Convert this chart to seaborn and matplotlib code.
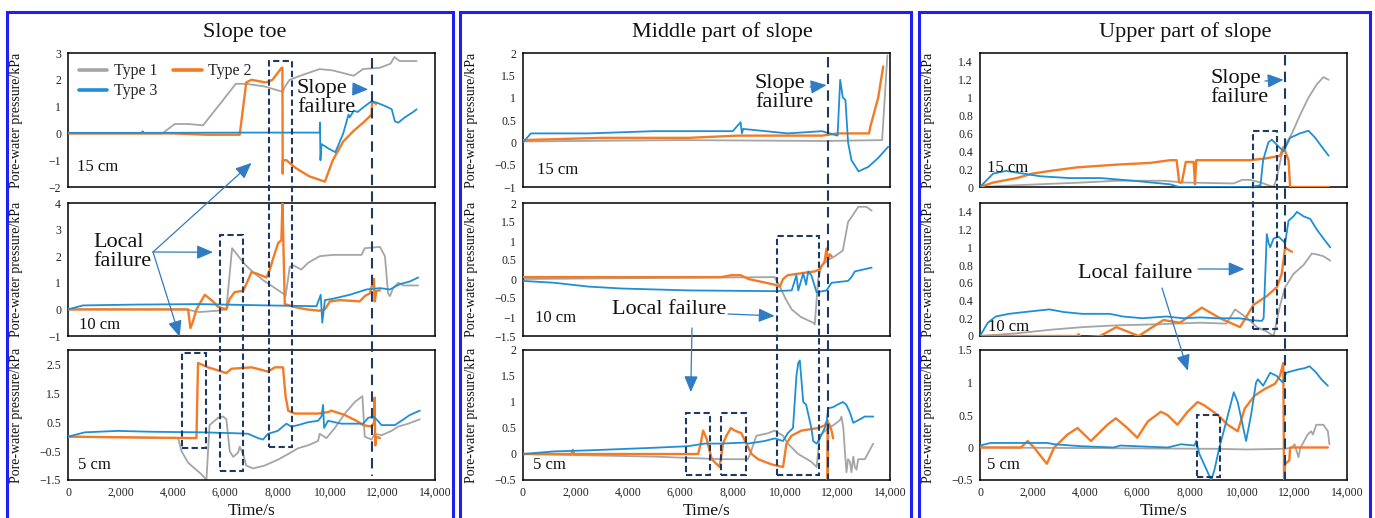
import matplotlib
matplotlib.use("Agg")
import numpy as np
import pandas as pd
import matplotlib.pyplot as plt
import seaborn as sns
from matplotlib.patches import Rectangle, FancyArrowPatch
from matplotlib.lines import Line2D
from matplotlib.ticker import FuncFormatter

# ---------------- DATA (time in s, pore-water pressure in kPa) ----------------
panel_titles = ["Slope toe", "Middle part of slope", "Upper part of slope"]
depth_labels = ["15 cm", "10 cm", "5 cm"]
series_names = ["Type 1", "Type 2", "Type 3"]

# Slope toe, 15 cm
toe15_type1_t = [0, 3600, 4070, 4600, 5150, 5800, 6400, 6800, 7500, 8200, 8250, 8450, 9000, 9600, 10100, 10900, 11250, 11900, 12300, 12450, 12650, 13300]
toe15_type1_p = [0, 0, 0.35, 0.35, 0.3, 1.1, 1.85, 1.85, 1.75, 1.55, 1.7, 2.0, 2.2, 2.4, 2.35, 2.15, 2.4, 2.45, 2.6, 2.85, 2.7, 2.7]
toe15_type2_t = [0, 4000, 5300, 6550, 6800, 7000, 7550, 7800, 8150, 8180, 8190, 8200, 8330, 8700, 9200, 9800, 10100, 10500, 10900, 11260, 11580, 11600, 11750]
toe15_type2_p = [0, 0, -0.05, -0.05, 1.9, 2.0, 1.9, 2.0, 2.45, 2.45, -1.5, -1.0, -1.0, -1.3, -1.6, -1.8, -1.0, -0.3, 0.1, 0.4, 0.7, 1.2, 1.1]
toe15_type3_t = [0, 2800, 2850, 2900, 6500, 9600, 9610, 9630, 9670, 10000, 10200, 10500, 10700, 10750, 10900, 11050, 11300, 11580, 11770, 12150, 12350, 12470, 12600, 12850, 13170, 13300]
toe15_type3_p = [0.02, 0.02, 0.08, 0.02, 0.03, 0.03, 0.4, -1.0, -0.4, -0.6, -0.7, 0.0, 0.7, 0.6, 0.85, 0.8, 1.0, 1.2, 1.15, 1.0, 0.9, 0.45, 0.4, 0.6, 0.8, 0.9]

# Slope toe, 10 cm
toe10_type1_t = [0, 4500, 5000, 5700, 6040, 6260, 6420, 6740, 7060, 7440, 7820, 8200, 8300, 8460, 8600, 8900, 9160, 9600, 10100, 11200, 11320, 11900, 12090, 12210, 12280, 12400, 12600, 12800, 13360]
toe10_type1_p = [0, 0, -0.1, -0.05, 0.0, 2.3, 2.1, 1.7, 1.4, 1.1, 0.85, 0.6, 0.5, 1.6, 1.65, 1.5, 1.75, 2.0, 2.05, 2.05, 2.3, 2.35, 2.0, 0.6, 0.5, 0.8, 1.0, 0.9, 0.9]
toe10_type2_t = [0, 4580, 4670, 4750, 4900, 5220, 5530, 5720, 6040, 6170, 6360, 6680, 6870, 7000, 7190, 7570, 7700, 7820, 8020, 8140, 8180, 8270, 8590, 9100, 9600, 9800, 9990, 10370, 11130, 11320, 11510, 11670, 11700, 11770, 11900]
toe10_type2_p = [0, 0, -0.7, -0.5, 0.0, 0.55, 0.3, 0.1, 0.0, 0.4, 0.65, 0.7, 1.1, 1.4, 1.35, 1.2, 1.5, 1.9, 2.5, 2.6, 4.0, 0.2, 0.1, 0.0, -0.05, 0.0, 0.3, 0.35, 0.3, 0.5, 0.6, 1.15, 0.3, 0.7, 0.72]
toe10_type3_t = [0, 570, 2500, 5000, 7570, 9480, 9640, 9700, 9800, 10100, 10750, 11390, 11900, 12280, 12660, 13040, 13360]
toe10_type3_p = [0, 0.15, 0.18, 0.2, 0.15, 0.12, 0.55, -0.5, 0.35, 0.4, 0.55, 0.75, 0.8, 0.75, 0.95, 1.05, 1.2]

# Slope toe, 5 cm
toe5_type1_t = [0, 4200, 4330, 4580, 4830, 5090, 5280, 5400, 5720, 5920, 6040, 6170, 6300, 6490, 6550, 6680, 6800, 7060, 7500, 8000, 8400, 8780, 9160, 9540, 9600, 9860, 10180, 10560, 10940, 11230, 11320, 11580, 11700, 11960, 12340, 12600, 12980, 13420]
toe5_type1_p = [0, -0.05, -0.5, -0.9, -1.1, -1.3, -1.5, 0.4, 0.65, 0.7, 0.6, -0.5, -0.7, -0.55, -0.35, -0.6, -1.0, -1.1, -1.0, -0.8, -0.6, -0.4, -0.3, -0.15, 0.1, -0.05, 0.3, 0.8, 1.2, 1.4, 0.0, -0.1, 0.1, 0.05, 0.2, 0.35, 0.45, 0.6]
toe5_type2_t = [0, 4900, 4960, 5340, 5700, 6040, 6230, 7000, 7440, 7630, 7890, 8200, 8300, 8400, 8650, 9540, 9920, 10050, 10560, 11000, 11260, 11580, 11680, 11700, 11720, 11750, 11900]
toe5_type2_p = [0, -0.05, 2.55, 2.4, 2.3, 2.2, 2.35, 2.4, 2.3, 2.25, 2.4, 2.4, 1.4, 0.9, 0.8, 0.8, 0.85, 0.9, 0.75, 0.55, 0.4, 0.35, 0.5, 1.35, -0.3, 0.0, -0.05]
toe5_type3_t = [0, 640, 1900, 3180, 5090, 6360, 6870, 7250, 7440, 7630, 8000, 8330, 8520, 8780, 9160, 9540, 9670, 9730, 9770, 9920, 10430, 11260, 11450, 11640, 11770, 11960, 12470, 12720, 13040, 13420]
toe5_type3_p = [0, 0.15, 0.2, 0.17, 0.15, 0.12, 0.1, -0.05, -0.1, 0.1, 0.2, 0.45, 0.35, 0.4, 0.5, 0.55, 0.7, 1.1, 0.3, 0.55, 0.45, 0.45, 0.65, 0.7, 0.6, 0.4, 0.4, 0.55, 0.75, 0.9]

# Middle part, 15 cm
mid15_type1_t = [0, 6000, 11500, 13700, 13900]
mid15_type1_p = [0.02, 0.05, 0.03, 0.05, 1.95]
mid15_type2_t = [0, 3000, 6300, 8200, 11400, 12000, 13200, 13250, 13550, 13740]
mid15_type2_p = [0.05, 0.1, 0.1, 0.15, 0.15, 0.2, 0.2, 0.35, 1.0, 1.7]
mid15_type3_t = [0, 300, 2500, 5000, 8000, 8300, 8350, 8400, 10100, 11400, 12000, 12100, 12200, 12300, 12400, 12530, 12800, 13170, 13550, 13930]
mid15_type3_p = [0, 0.2, 0.2, 0.25, 0.25, 0.45, 0.2, 0.3, 0.2, 0.25, 0.15, 1.4, 1.0, 0.95, 0.0, -0.4, -0.65, -0.55, -0.35, -0.1]

# Middle part, 10 cm
mid10_type1_t = [0, 9600, 9800, 10000, 10250, 10600, 11070, 11130, 11260, 11390, 11640, 11900, 12200, 12400, 12600, 12790, 13100, 13300]
mid10_type1_p = [0, 0.05, -0.2, -0.5, -0.8, -1.0, -1.15, -1.2, 0.0, 0.35, 0.5, 0.6, 0.75, 1.5, 1.7, 1.9, 1.9, 1.8]
mid10_type2_t = [0, 7570, 7950, 8300, 8600, 9600, 9800, 9920, 10100, 10600, 11130, 11300, 11500, 11580, 11620, 11700, 11770]
mid10_type2_p = [0.05, 0.05, 0.1, 0.1, 0.0, -0.15, -0.2, 0.0, 0.1, 0.15, 0.2, 0.25, 0.45, 0.8, 0.5, 0.65, 0.6]
mid10_type3_t = [0, 1200, 2500, 3750, 6300, 9600, 10250, 10430, 10500, 10690, 10800, 10880, 11000, 11200, 11580, 11770, 12400, 12530, 12660, 13300]
mid10_type3_p = [-0.05, -0.1, -0.2, -0.25, -0.3, -0.32, -0.3, 0.1, -0.3, 0.15, -0.15, 0.2, 0.1, -0.35, -0.3, -0.1, -0.05, 0.05, 0.2, 0.3]

# Middle part, 5 cm
mid5_type1_t = [0, 1900, 5000, 7570, 8580, 8700, 8900, 9350, 9600, 9920, 10100, 10500, 11000, 11200, 11320, 11640, 11830, 12090, 12150, 12220, 12280, 12340, 12400, 12470, 12530, 12600, 12660, 12720, 12790, 13040, 13360]
mid5_type1_p = [0, -0.02, -0.05, -0.1, -0.1, 0.05, 0.35, 0.4, 0.45, 0.35, 0.2, 0.0, -0.15, -0.25, 0.35, 0.5, 0.55, 0.65, 0.72, 0.5, 0.05, -0.35, -0.1, -0.15, -0.35, -0.05, -0.25, -0.3, -0.1, -0.1, 0.2]
mid5_type2_t = [0, 1850, 1900, 1950, 6300, 6680, 6780, 6870, 7000, 7200, 7500, 7630, 7760, 7930, 8080, 8330, 8520, 8720, 8970, 9480, 9920, 10050, 10240, 10620, 11260, 11510, 11620, 11625, 11640, 11700, 11770, 11830]
mid5_type2_p = [0, 0, 0.08, 0, 0, 0, 0.2, 0.45, 0.3, -0.1, -0.25, 0.2, 0.35, 0.5, 0.45, 0.4, 0.2, 0.0, -0.1, -0.2, -0.25, 0.2, 0.35, 0.45, 0.5, 0.55, 0.65, -0.55, 0.6, 0.55, 0.45, 0.3]
mid5_type3_t = [0, 1200, 2500, 5000, 6300, 6930, 7570, 8460, 8580, 9220, 9600, 9920, 10100, 10300, 10430, 10500, 10560, 10690, 10800, 11000, 11070, 11200, 11320, 11510, 11580, 11640, 11830, 12000, 12200, 12330, 12470, 12600, 12790, 13040, 13360]
mid5_type3_p = [0, 0.05, 0.07, 0.12, 0.15, 0.2, 0.2, 0.22, 0.2, 0.25, 0.3, 0.25, 0.4, 0.5, 1.5, 1.75, 1.8, 1.0, 0.95, 0.5, 0.25, 0.2, 0.3, 0.5, 0.6, 0.88, 0.9, 0.95, 1.0, 0.95, 0.8, 0.6, 0.65, 0.72, 0.72]

# Upper part, 15 cm
up15_type1_t = [0, 1400, 3900, 5200, 7000, 7800, 9670, 10000, 10300, 10700, 11200, 11320, 11500, 11700, 11900, 12200, 12530, 12850, 13100, 13300]
up15_type1_p = [0, 0.02, 0.05, 0.07, 0.07, 0.05, 0.04, 0.08, 0.08, 0.05, 0.0, 0.1, 0.35, 0.5, 0.6, 0.8, 1.0, 1.15, 1.23, 1.2]
up15_type2_t = [0, 500, 1400, 2000, 2670, 3700, 5200, 6500, 7250, 7500, 7600, 7700, 7850, 8150, 8200, 8250, 10300, 10900, 11450, 11580, 11770, 11830, 13300]
up15_type2_p = [0, 0.05, 0.1, 0.15, 0.18, 0.22, 0.25, 0.27, 0.3, 0.3, 0.05, 0.05, 0.28, 0.28, 0.03, 0.3, 0.3, 0.32, 0.35, 0.45, 0.3, 0.0, 0.0]
up15_type3_t = [0, 500, 1000, 1650, 2300, 3400, 4600, 5850, 7250, 7600, 10300, 10700, 10800, 11000, 11130, 11400, 11580, 11830, 12200, 12530, 12790, 13040, 13300]
up15_type3_p = [0, 0.15, 0.18, 0.15, 0.12, 0.1, 0.1, 0.07, 0.03, 0.0, 0.0, 0.02, 0.3, 0.5, 0.53, 0.45, 0.4, 0.55, 0.6, 0.63, 0.55, 0.45, 0.35]

# Upper part, 10 cm
up10_type1_t = [0, 1400, 2670, 3900, 5200, 6500, 8400, 9400, 9730, 10200, 10560, 10940, 11200, 11450, 11640, 11960, 12340, 12660, 12850, 13100, 13360]
up10_type1_p = [0, 0.03, 0.07, 0.1, 0.12, 0.13, 0.15, 0.14, 0.3, 0.2, 0.1, 0.05, 0.0, 0.35, 0.55, 0.7, 0.8, 0.93, 0.92, 0.9, 0.85]
up10_type2_t = [0, 3700, 3760, 3850, 4580, 5200, 6050, 7000, 7630, 8460, 9160, 9920, 10430, 10940, 11320, 11510, 11640, 11770, 11900]
up10_type2_p = [0, 0, 0.02, -0.02, 0.0, 0.1, 0.0, 0.18, 0.15, 0.32, 0.2, 0.1, 0.35, 0.45, 0.55, 0.7, 1.0, 0.97, 0.95]
up10_type3_t = [0, 300, 600, 1100, 2000, 2650, 3200, 3900, 4950, 5450, 6200, 7100, 7760, 8400, 9030, 9900, 10300, 10750, 10820, 10940, 11010, 11070, 11200, 11390, 11640, 11770, 11960, 12090, 12340, 12600, 12850, 13100, 13360]
up10_type3_p = [0, 0.15, 0.22, 0.25, 0.28, 0.3, 0.27, 0.25, 0.25, 0.22, 0.2, 0.22, 0.2, 0.21, 0.2, 0.2, 0.18, 0.17, 0.2, 1.15, 1.05, 1.0, 1.1, 1.12, 1.05, 1.3, 1.35, 1.4, 1.35, 1.32, 1.2, 1.1, 1.0]

# Upper part, 5 cm
up5_type1_t = [0, 8900, 10200, 11650, 11900, 12000, 12150, 12220, 12300, 12500, 12630, 12700, 12830, 13100, 13270, 13330]
up5_type1_p = [0, -0.02, -0.03, -0.02, 0.0, 0.05, -0.15, 0.0, 0.05, 0.2, 0.25, 0.2, 0.35, 0.35, 0.25, 0.05]
up5_type2_t = [0, 1560, 1820, 2060, 2450, 2550, 2830, 3340, 3720, 4230, 4860, 5180, 5620, 6000, 6400, 6900, 7150, 7530, 7920, 8300, 8550, 9070, 9450, 9830, 10100, 10480, 10860, 11250, 11440, 11570, 11600, 11640, 11800, 11830, 13270]
up5_type2_p = [0, 0, 0.1, 0.0, -0.2, -0.25, 0.0, 0.2, 0.3, 0.1, 0.35, 0.45, 0.3, 0.15, 0.4, 0.55, 0.5, 0.35, 0.55, 0.7, 0.65, 0.5, 0.35, 0.25, 0.6, 0.8, 0.9, 0.98, 1.1, 1.3, -0.55, -0.25, -0.2, 0.0, 0.0]
up5_type3_t = [0, 400, 2580, 2830, 3850, 5100, 5350, 7160, 7670, 8180, 8250, 8370, 8820, 8940, 9130, 9330, 9680, 9830, 10150, 10340, 10530, 10600, 10800, 11070, 11320, 11550, 11680, 12130, 12380, 12570, 12830, 13020, 13270]
up5_type3_p = [0.03, 0.07, 0.07, 0.05, 0.02, 0.0, 0.03, 0.0, 0.05, 0.03, 0.1, -0.1, -0.5, -0.35, 0.0, 0.3, 0.85, 0.7, 0.1, 0.5, 1.0, 1.05, 0.95, 1.15, 1.1, 1.0, 1.15, 1.2, 1.22, 1.25, 1.15, 1.05, 0.95]

# axis ranges and ticks per panel (rows: 15, 10, 5 cm)
toe_ylims = [(-2, 3), (-1, 4), (-1.5, 3)]
toe_yticks = [[-2, -1, 0, 1, 2, 3], [-1, 0, 1, 2, 3, 4], [-1.5, -0.5, 0.5, 1.5, 2.5]]
mid_ylims = [(-1, 2), (-1.5, 2), (-0.5, 2)]
mid_yticks = [[-1, -0.5, 0, 0.5, 1, 1.5, 2], [-1.5, -1, -0.5, 0, 0.5, 1, 1.5, 2], [-0.5, 0, 0.5, 1, 1.5, 2]]
up_ylims = [(0, 1.5), (0, 1.5), (-0.5, 1.5)]
up_yticks = [[0, 0.2, 0.4, 0.6, 0.8, 1.0, 1.2, 1.4], [0, 0.2, 0.4, 0.6, 0.8, 1.0, 1.2, 1.4], [-0.5, 0, 0.5, 1, 1.5]]
time_ticks = [0, 2000, 4000, 6000, 8000, 10000, 12000, 14000]

# ---------------- STYLE ----------------
sns.set_theme(style="white")
plt.rcParams['font.family'] = ['Liberation Serif', 'DejaVu Serif']
plt.rcParams['axes.unicode_minus'] = True

colors = {"Type 1": "#A5A5A5", "Type 2": "#F47B25", "Type 3": "#1E8FD5"}
widths = {"Type 1": 1.3, "Type 2": 1.7, "Type 3": 1.3}
navy = "#1F3A60"
arrow_c = "#2F7BC4"
frame_blue = "#1F1FF5"

W, H = 1375, 518
fig = plt.figure(figsize=(W / 100, H / 100), dpi=100)


def fpx(x, y):
    return (x / W, 1 - y / H)


col_left = [68, 523, 980]
ax_w = 367
row_tb = [(53, 187), (203, 336), (350, 480)]

data = {
    0: [[(toe15_type1_t, toe15_type1_p), (toe15_type2_t, toe15_type2_p), (toe15_type3_t, toe15_type3_p)],
        [(toe10_type1_t, toe10_type1_p), (toe10_type2_t, toe10_type2_p), (toe10_type3_t, toe10_type3_p)],
        [(toe5_type1_t, toe5_type1_p), (toe5_type2_t, toe5_type2_p), (toe5_type3_t, toe5_type3_p)]],
    1: [[(mid15_type1_t, mid15_type1_p), (mid15_type2_t, mid15_type2_p), (mid15_type3_t, mid15_type3_p)],
        [(mid10_type1_t, mid10_type1_p), (mid10_type2_t, mid10_type2_p), (mid10_type3_t, mid10_type3_p)],
        [(mid5_type1_t, mid5_type1_p), (mid5_type2_t, mid5_type2_p), (mid5_type3_t, mid5_type3_p)]],
    2: [[(up15_type1_t, up15_type1_p), (up15_type2_t, up15_type2_p), (up15_type3_t, up15_type3_p)],
        [(up10_type1_t, up10_type1_p), (up10_type2_t, up10_type2_p), (up10_type3_t, up10_type3_p)],
        [(up5_type1_t, up5_type1_p), (up5_type2_t, up5_type2_p), (up5_type3_t, up5_type3_p)]],
}
ylims = [toe_ylims, mid_ylims, up_ylims]
yticks = [toe_yticks, mid_yticks, up_yticks]

yfmt = FuncFormatter(lambda v, _: ('%g' % round(v, 3)).replace('-', '\u2212'))
xfmt = FuncFormatter(lambda v, _: '{:,.0f}'.format(v))

axes = [[None] * 3 for _ in range(3)]
for c in range(3):
    for r in range(3):
        top, bot = row_tb[r]
        x0, y0 = fpx(col_left[c], bot)
        ax = fig.add_axes([x0, y0, ax_w / W, (bot - top) / H])
        axes[c][r] = ax
        for k, name in enumerate(series_names):
            t, p = data[c][r][k]
            df = pd.DataFrame({"Time/s": t, "P": p})
            sns.lineplot(data=df, x="Time/s", y="P", ax=ax, color=colors[name],
                         lw=widths[name], sort=False, estimator=None, zorder=2 + k)
        ax.set_xlim(0, 14000)
        ax.set_ylim(*ylims[c][r])
        ax.set_yticks(yticks[c][r])
        ax.yaxis.set_major_formatter(yfmt)
        ax.set_xticks(time_ticks)
        ax.xaxis.set_major_formatter(xfmt)
        ax.set_facecolor("white")
        for s in ax.spines.values():
            s.set_visible(True)
            s.set_color("black")
            s.set_linewidth(1.1)
        ax.tick_params(axis='both', length=0, labelsize=8.5, colors="#222222")
        ax.tick_params(axis='y', pad=5)
        ax.tick_params(axis='x', pad=5)
        ax.set_ylabel("Pore-water pressure/kPa", fontsize=10, color="#111111")
        ax.yaxis.set_label_coords(-0.122, 0.5)
        if r < 2:
            ax.set_xticklabels([])
            ax.set_xlabel("")
        else:
            ax.set_xlabel("Time/s", fontsize=12.5, labelpad=3, color="#111111")

# legend in first panel
handles = [Line2D([], [], color=colors[n], lw=2.6) for n in ["Type 1", "Type 3", "Type 2"]]
axes[0][0].legend(handles, ["Type 1", "Type 3", "Type 2"], ncol=2, loc="upper left",
                  bbox_to_anchor=(-0.01, 1.03), frameon=False, fontsize=11.5,
                  handlelength=1.8, handletextpad=0.4, columnspacing=1.0, labelspacing=0.25)


def to_fig(ax, t, v):
    return fig.transFigure.inverted().transform(ax.transData.transform((t, v)))


# dashed boxes: (column, t0, t1, top row, top value, bottom row, bottom value)
boxes = [
    (0, 7650, 8560, 0, 2.72, 2, -0.36),
    (0, 5780, 6690, 1, 2.8, 2, -1.18),
    (0, 4330, 5250, 2, 2.9, 2, -0.38),
    (1, 9680, 11300, 1, 1.13, 2, -0.4),
    (1, 6200, 7120, 2, 0.78, 2, -0.4),
    (1, 7570, 8500, 2, 0.78, 2, -0.4),
    (2, 10400, 11320, 0, 0.625, 1, 0.08),
    (2, 8270, 9170, 2, 0.5, 2, -0.45),
]
for c, t0, t1, rt, vt, rb, vb in boxes:
    xa, ya = to_fig(axes[c][rt], t0, vt)
    xb, yb = to_fig(axes[c][rb], t1, vb)
    fig.add_artist(Rectangle((xa, yb), xb - xa, ya - yb, transform=fig.transFigure,
                             fill=False, ec=navy, lw=1.5, ls=(0, (3, 1.6)), zorder=5))

# slope-failure vertical lines: (column, t, top value, bottom value)
vlines = [(0, 11600, 2.8, -1.35), (1, 11620, 1.9, -0.5), (2, 11650, 1.48, -0.5)]
for c, t, vt, vb in vlines:
    xa, ya = to_fig(axes[c][0], t, vt)
    xb, yb = to_fig(axes[c][2], t, vb)
    fig.add_artist(Line2D([xa, xb], [ya, yb], transform=fig.transFigure, color=navy,
                          lw=1.5, ls=(0, (5, 3)), zorder=6))


def arrow(start_px, c, r, t, v):
    s = fpx(*start_px)
    e = to_fig(axes[c][r], t, v)
    fig.add_artist(FancyArrowPatch(s, e, transform=fig.transFigure,
                                   arrowstyle="-|>,head_length=0.7,head_width=0.3",
                                   mutation_scale=14, color=arrow_c, lw=0.9,
                                   shrinkA=0, shrinkB=0, zorder=7))


txt = dict(fontsize=16, color="#111111", zorder=8)
# column titles
for c, (xc, name) in enumerate(zip([245, 722, 1185], panel_titles)):
    fig.text(*fpx(xc, 32), name, ha="center", va="center", fontsize=16, color="#111111")

# depth labels
depth_pos = [[(77, 167), (79, 325), (78, 465)],
             [(537, 170), (535, 318), (533, 465)],
             [(987, 168), (988, 327), (987, 465)]]
for c in range(3):
    for r in range(3):
        fig.text(*fpx(*depth_pos[c][r]), depth_labels[r], ha="left", va="center",
                 fontsize=12, color="#111111", zorder=8)

# slope failure labels
for (xl, yc), (sx, sy), c, t, v in [((297, 98), (353, 89), 0, 11450, 1.64),
                                     ((755, 93), (810, 87), 1, 11580, 1.28),
                                     ((1210, 88), (1265, 81), 2, 11580, 1.2)]:
    fig.text(*fpx(xl, yc), "Slope\nfailure", ha="left", va="center", linespacing=1.0, **txt)
    arrow((sx, sy), c, 0, t, v)

# local failure labels
fig.text(*fpx(93, 252), "Local\nfailure", ha="left", va="center", linespacing=1.0, **txt)
arrow((153, 252), 0, 0, 7000, -1.1)
arrow((153, 252), 0, 1, 5530, 2.15)
arrow((153, 252), 0, 1, 4260, -1.03)

fig.text(*fpx(612, 310), "Local failure", ha="left", va="center", **txt)
arrow((728, 314), 1, 1, 9600, -0.97)
arrow((692, 328), 1, 2, 6400, 1.19)

fig.text(*fpx(1078, 273), "Local failure", ha="left", va="center", **txt)
arrow((1198, 269), 2, 1, 10090, 0.755)
arrow((1162, 288), 2, 2, 7930, 1.18)

# blue frames around each column
for xl, xr in [(7, 453), (460, 911), (919, 1370)]:
    a = fpx(xl, 12)
    b = fpx(xr, 530)
    fig.add_artist(Rectangle((a[0], b[1]), b[0] - a[0], a[1] - b[1], transform=fig.transFigure,
                             fill=False, ec=frame_blue, lw=2.2, zorder=9, clip_on=False))

fig.savefig("out.png", dpi=100, facecolor="white")
